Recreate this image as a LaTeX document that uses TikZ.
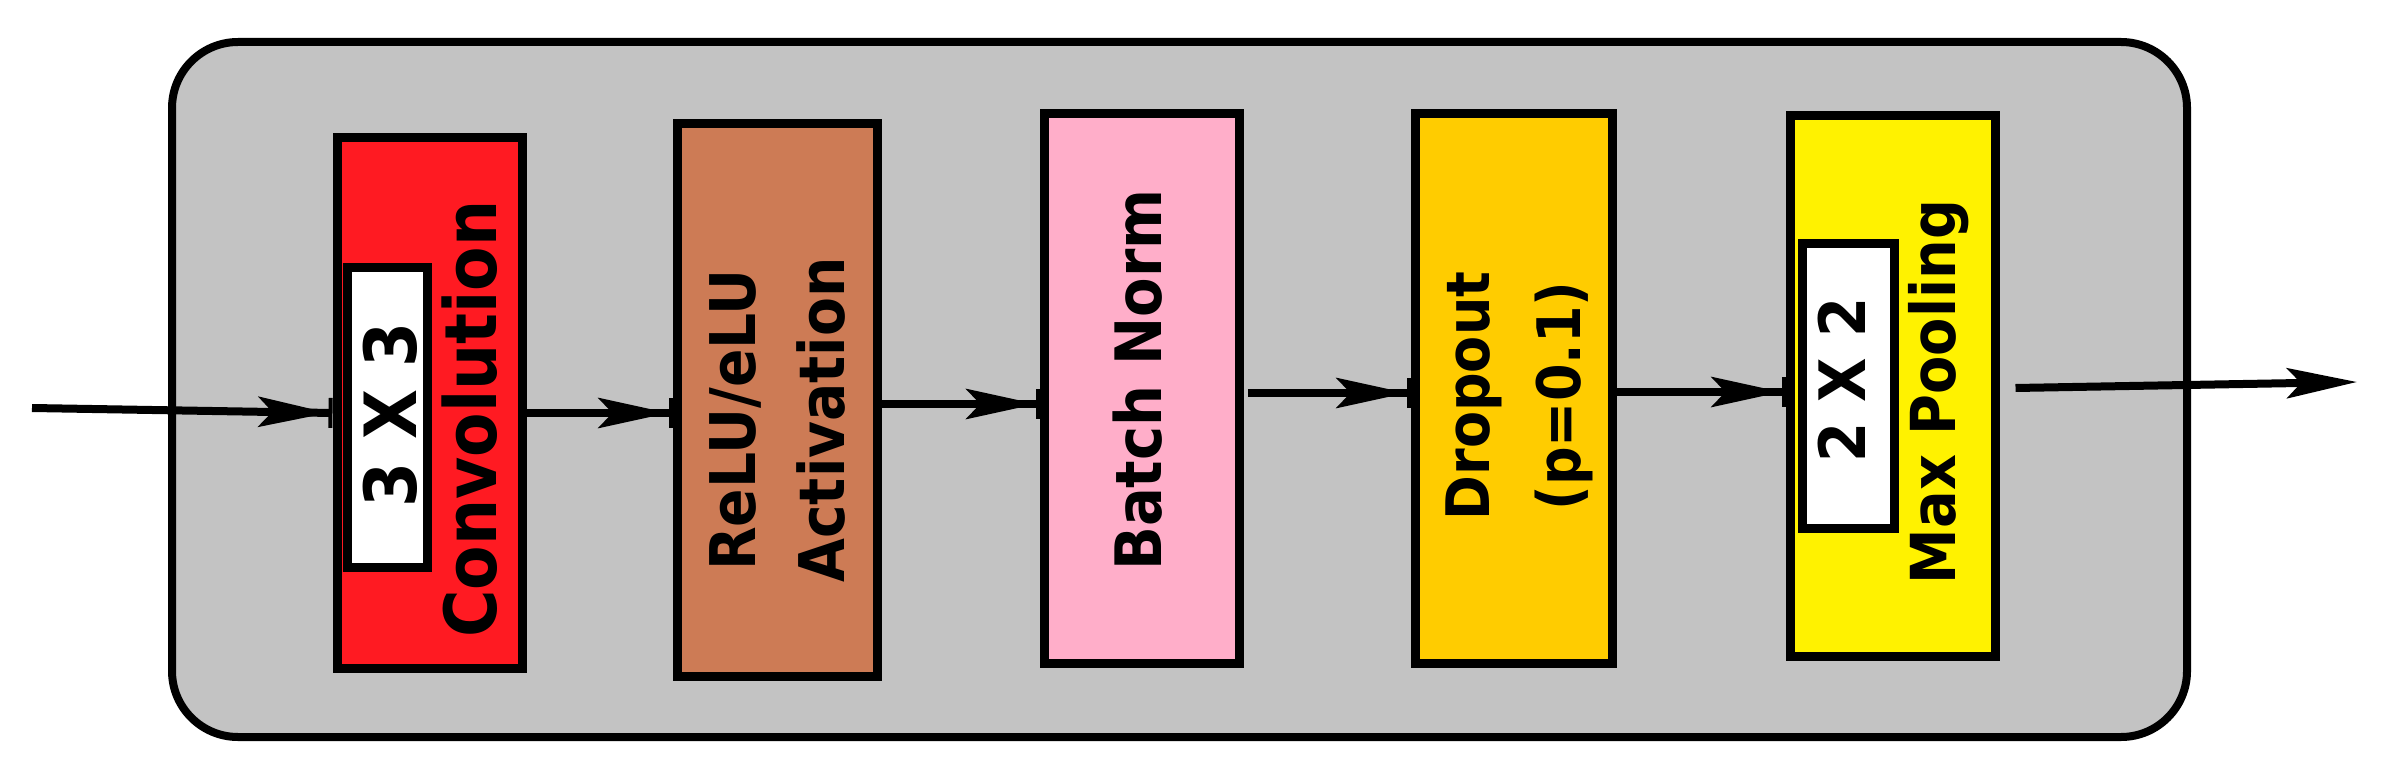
\documentclass[tikz,border=0pt]{standalone}
\usepackage{fontspec}
\setmainfont{DejaVu Sans}[FakeStretch=0.9]
\usetikzlibrary{arrows.meta}
\definecolor{bggray}{HTML}{C3C3C3}
\definecolor{convred}{HTML}{FF1A22}
\definecolor{relubrown}{HTML}{CD7B55}
\definecolor{bnpink}{HTML}{FFAEC9}
\definecolor{droporange}{HTML}{FFCC00}
\definecolor{poolyellow}{HTML}{FFF200}
\tikzset{
  layerbox/.style={draw=black, line width=9pt, inner sep=0pt, outer sep=4.5pt},
  kernelbox/.style={draw=black, fill=white, line width=9pt, inner sep=0pt, outer sep=4.5pt},
  vtext/.style={rotate=90, inner sep=0pt, align=center},
  flow/.style={line width=8pt, -{Stealth[length=70pt,width=30pt,inset=14pt]Rectangle[length=4pt,width=30pt]}},
  outflow/.style={line width=8pt, -{Stealth[length=70pt,width=30pt,inset=14pt]}}
}
\newcommand{\fsz}[2]{\bfseries\fontsize{#1}{#2}\selectfont}
\begin{document}
\begin{tikzpicture}[x=1pt,y=-1pt]
\useasboundingbox (0,0) rectangle (2384,775);
\draw[fill=bggray, line width=8pt, rounded corners=66pt] (172,42) rectangle (2187,737);
% boxes
\node[layerbox, fill=convred, minimum width=185pt, minimum height=530pt] (conv) at (429.5,403) {};
\node[kernelbox, minimum width=80pt, minimum height=299pt] (k3) at (387.5,417.5) {};
\node[vtext, font=\fsz{72}{80}] (k3t) at (390,415) {3 X 3};
\node[vtext, font=\fsz{72}{80}] (convt) at (470,419) {Convolution};
\node[layerbox, fill=relubrown, minimum width=200pt, minimum height=552pt] (relu) at (777,400) {};
\node[vtext, font=\fsz{63}{89}] (relut) at (777,420) {ReLU/eLU\\Activation};
\node[layerbox, fill=bnpink, minimum width=194.5pt, minimum height=549pt] (bn) at (1142,388.5) {};
\node[vtext, font=\fsz{64}{80}] (bnt) at (1138,380) {Batch Norm};
\node[layerbox, fill=droporange, minimum width=197pt, minimum height=549pt] (drop) at (1513.5,388.5) {};
\node[vtext, font=\fsz{60}{91}] (dropt) at (1519,396) {Dropout\\(p=0.1)};
\node[layerbox, fill=poolyellow, minimum width=205pt, minimum height=540pt] (pool) at (1892.5,386) {};
\node[kernelbox, minimum width=92pt, minimum height=284pt] (k2) at (1848,386) {};
\node[vtext, font=\fsz{64}{80}] (k2t) at (1842,380) {2 X 2};
\node[vtext, font=\fsz{62}{80}] (poolt) at (1939,392) {Max Pooling};
% connectors
\coordinate (in) at (32,408);
\coordinate (out) at (2357,382);
\draw[flow] (in) -- (conv.west |- 0,413);
\draw[flow] (conv.east |- 0,413) -- (relu.west |- 0,413);
\draw[flow] (relu.east |- 0,404) -- (bn.west |- 0,404);
\draw[flow] ([xshift=4pt]bn.east |- 0,393) -- (drop.west |- 0,393);
\draw[flow] (drop.east |- 0,392) -- (pool.west |- 0,392);
\draw[outflow] ([xshift=16pt]pool.east |- 0,388) -- (out);
\end{tikzpicture}
\end{document}
